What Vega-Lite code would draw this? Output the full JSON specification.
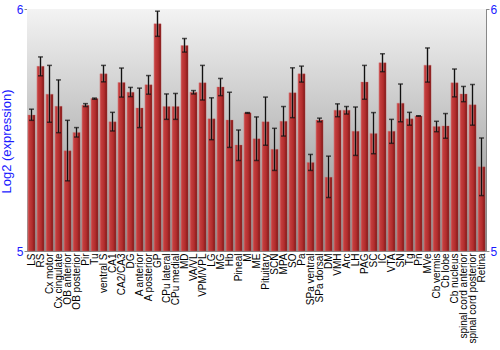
{
  "$schema": "https://vega.github.io/schema/vega-lite/v6.json",
  "autosize": {"type": "none"},
  "width": 459,
  "height": 242,
  "padding": {"left": 27, "top": 9, "right": 14, "bottom": 99},
  "background": "white",
  "config": {
    "font": "Liberation Sans",
    "view": {"stroke": "#888888", "strokeWidth": 1},
    "axis": {"grid": false, "domainColor": "#888888", "tickColor": "#888888"}
  },
  "data": {"values": [
    {"region": "LS", "value": 5.562, "lo": 5.540, "hi": 5.586},
    {"region": "RS", "value": 5.763, "lo": 5.724, "hi": 5.802},
    {"region": "Cx motor", "value": 5.648, "lo": 5.532, "hi": 5.767},
    {"region": "Cx cingulate", "value": 5.598, "lo": 5.489, "hi": 5.707},
    {"region": "OB anterior", "value": 5.414, "lo": 5.290, "hi": 5.540},
    {"region": "OB posterior", "value": 5.490, "lo": 5.471, "hi": 5.510},
    {"region": "Pir", "value": 5.602, "lo": 5.597, "hi": 5.609},
    {"region": "Tu", "value": 5.630, "lo": 5.627, "hi": 5.632},
    {"region": "ventral S", "value": 5.732, "lo": 5.699, "hi": 5.767},
    {"region": "CA1", "value": 5.534, "lo": 5.496, "hi": 5.573},
    {"region": "CA2/CA3", "value": 5.696, "lo": 5.636, "hi": 5.756},
    {"region": "DG", "value": 5.656, "lo": 5.638, "hi": 5.676},
    {"region": "A anterior", "value": 5.591, "lo": 5.510, "hi": 5.673},
    {"region": "A posterior", "value": 5.687, "lo": 5.648, "hi": 5.725},
    {"region": "GP", "value": 5.939, "lo": 5.887, "hi": 5.991},
    {"region": "CPu lateral", "value": 5.597, "lo": 5.544, "hi": 5.649},
    {"region": "CPu medial", "value": 5.597, "lo": 5.544, "hi": 5.651},
    {"region": "MD", "value": 5.849, "lo": 5.822, "hi": 5.878},
    {"region": "VA/VL", "value": 5.656, "lo": 5.649, "hi": 5.663},
    {"region": "VPM/VPL", "value": 5.695, "lo": 5.624, "hi": 5.767},
    {"region": "LG", "value": 5.546, "lo": 5.460, "hi": 5.633},
    {"region": "MG", "value": 5.678, "lo": 5.642, "hi": 5.713},
    {"region": "Hb", "value": 5.541, "lo": 5.428, "hi": 5.656},
    {"region": "Pineal", "value": 5.438, "lo": 5.374, "hi": 5.500},
    {"region": "M", "value": 5.571, "lo": 5.569, "hi": 5.572},
    {"region": "ME", "value": 5.464, "lo": 5.374, "hi": 5.554},
    {"region": "Pituitary", "value": 5.534, "lo": 5.437, "hi": 5.636},
    {"region": "SCN", "value": 5.420, "lo": 5.333, "hi": 5.507},
    {"region": "MPA", "value": 5.536, "lo": 5.475, "hi": 5.597},
    {"region": "SO", "value": 5.654, "lo": 5.551, "hi": 5.757},
    {"region": "Pa", "value": 5.732, "lo": 5.698, "hi": 5.764},
    {"region": "SPa ventral", "value": 5.366, "lo": 5.333, "hi": 5.399},
    {"region": "SPa dorsal", "value": 5.541, "lo": 5.534, "hi": 5.549},
    {"region": "DM", "value": 5.305, "lo": 5.221, "hi": 5.392},
    {"region": "VMH", "value": 5.582, "lo": 5.555, "hi": 5.608},
    {"region": "Arc", "value": 5.582, "lo": 5.566, "hi": 5.597},
    {"region": "LH", "value": 5.495, "lo": 5.395, "hi": 5.595},
    {"region": "PAG", "value": 5.698, "lo": 5.627, "hi": 5.767},
    {"region": "SC", "value": 5.486, "lo": 5.402, "hi": 5.572},
    {"region": "IC", "value": 5.778, "lo": 5.741, "hi": 5.815},
    {"region": "VTA", "value": 5.495, "lo": 5.445, "hi": 5.544},
    {"region": "SN", "value": 5.611, "lo": 5.534, "hi": 5.690},
    {"region": "Tg", "value": 5.546, "lo": 5.520, "hi": 5.573},
    {"region": "Pn", "value": 5.558, "lo": 5.557, "hi": 5.559},
    {"region": "MVe", "value": 5.768, "lo": 5.698, "hi": 5.839},
    {"region": "Cb vermis", "value": 5.514, "lo": 5.493, "hi": 5.536},
    {"region": "Cb lobe", "value": 5.517, "lo": 5.466, "hi": 5.568},
    {"region": "Cb nucleus", "value": 5.695, "lo": 5.637, "hi": 5.752},
    {"region": "spinal cord anterior", "value": 5.649, "lo": 5.617, "hi": 5.680},
    {"region": "spinal cord posterior", "value": 5.604, "lo": 5.520, "hi": 5.688},
    {"region": "Retina", "value": 5.348, "lo": 5.229, "hi": 5.467}
  ]},
  "layer": [
    {
      "data": {"values": [{"top": 6, "bottom": 5}]},
      "mark": {"type": "rect",
        "fill": {"gradient": "linear", "x1": 0.5, "y1": 0, "x2": 0.5, "y2": 1,
          "stops": [{"offset": 0, "color": "#f3f3f3"}, {"offset": 1, "color": "#8c8c8c"}]}},
      "encoding": {
        "y": {"field": "top", "type": "quantitative", "scale": {"domain": [5, 6], "zero": false, "nice": false},
          "axis": {"orient": "left", "values": [5, 6], "format": "d", "title": "Log2 (expression)", "titleColor": "#1a1aff", "titleFontSize": 13, "titleFontWeight": "normal", "titleFont": "Liberation Sans", "titlePadding": 3, "titleY": 132, "labelColor": "#1a1aff", "labelFontSize": 12, "labelFont": "Liberation Sans", "tickSize": 3, "labelPadding": 1}},
        "y2": {"field": "bottom"}
      }
    },
    {
      "mark": {"type": "bar", "stroke": "#d07070", "strokeWidth": 0.5, "strokeOpacity": 0.6,
        "color": {"gradient": "linear", "x1": 0, "y1": 0.5, "x2": 1, "y2": 0.5,
          "stops": [{"offset": 0, "color": "#cf6060"}, {"offset": 0.2, "color": "#c23c3c"}, {"offset": 0.6, "color": "#b22d2d"}, {"offset": 1, "color": "#7c1616"}]}},
      "encoding": {
        "x": {
          "field": "region", "type": "nominal", "sort": null,
          "scale": {"paddingInner": 0.2, "paddingOuter": 0.1},
          "axis": {"title": null, "labelAngle": -90, "labelFontSize": 10, "labelColor": "#000000", "ticks": false, "domain": false, "labelPadding": 2, "labelFont": "Liberation Sans"}
        },
        "y": {"field": "value", "type": "quantitative",
          "axis": {"orient": "right", "values": [5, 6], "format": "d", "title": null, "labelColor": "#1a1aff", "labelFontSize": 12, "labelFont": "Liberation Sans", "tickSize": 3, "labelPadding": 1}},
        "y2": {"datum": 5}
      }
    },
    {
      "mark": {"type": "rule", "color": "#888888", "strokeWidth": 3, "opacity": 0.45},
      "encoding": {"x": {"field": "region", "type": "nominal", "sort": null}, "y": {"field": "lo", "type": "quantitative", "axis": null}, "y2": {"field": "hi"}}
    },
    {
      "mark": {"type": "rule", "color": "#111111", "strokeWidth": 1},
      "encoding": {"x": {"field": "region", "type": "nominal", "sort": null}, "y": {"field": "lo", "type": "quantitative", "axis": null}, "y2": {"field": "hi"}}
    },
    {
      "mark": {"type": "tick", "color": "#111111", "thickness": 1.5, "size": 5},
      "encoding": {"x": {"field": "region", "type": "nominal", "sort": null}, "y": {"field": "lo", "type": "quantitative", "axis": null}}
    },
    {
      "mark": {"type": "tick", "color": "#111111", "thickness": 1.5, "size": 5},
      "encoding": {"x": {"field": "region", "type": "nominal", "sort": null}, "y": {"field": "hi", "type": "quantitative", "axis": null}}
    }
  ],
  "resolve": {"axis": {"y": "independent"}}
}
